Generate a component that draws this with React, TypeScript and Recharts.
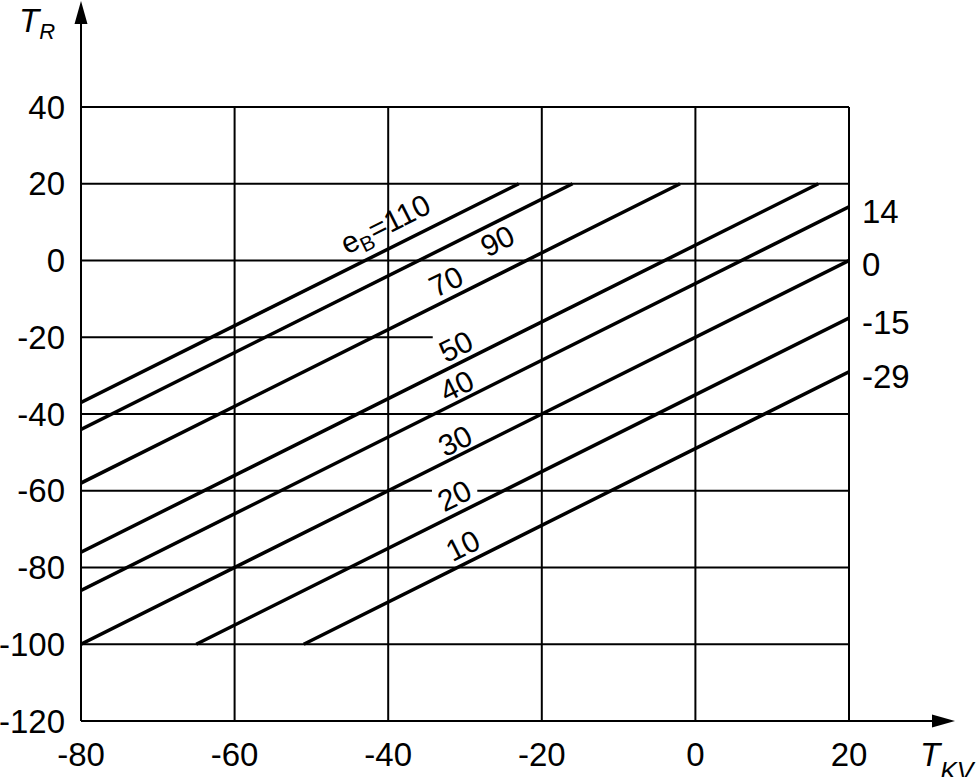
import React from 'react';
import { LineChart, Line, XAxis, YAxis, ReferenceLine, ReferenceDot } from 'recharts';

const FONT = '"Liberation Sans", Arial, Helvetica, sans-serif';

const xTicks = [-80, -60, -40, -20, 0, 20];
const yTicks = [-120, -100, -80, -60, -40, -20, 0, 20, 40];

// e_B curves, each one a straight segment (start -> end)
const curveNames = ['110', '90', '70', '50', '40', '30', '20', '10'];
const curveStartX = [-80, -80, -80, -80, -80, -80, -65, -51];
const curveStartY = [-37, -44, -58, -76, -86, -100, -100, -100];
const curveEndX = [-23, -16, -2, 16, 20, 20, 20, 20];
const curveEndY = [20, 20, 20, 20, 14, 0, -15, -29];

// where the curve labels sit
const labelX = [-40.4, -25.8, -32.5, -31.2, -31.1, -31.3, -31.4, -30.3];
const labelY = [9.6, 5.2, -5.4, -22.3, -32.6, -46.9, -61.2, -74.2];

// values written past the right edge
const endValues = [14, 0, -15, -29];

// grid
const gridRows = [40, 20, 0, -40, -80, -100];
const gridCols = [-60, -40, -20, 0, 20];
const partialRows = [
  { y: -20, from: -80, to: -34.2 },
  { y: -60, from: -80, to: -34.3 },
  { y: -60, from: -28.4, to: 20 },
];

const ANGLE = -26.6;

const tickStyle = { fill: '#000', fontSize: 33, fontFamily: FONT };

function CurveLabel({ cx, cy, name }: any) {
  return (
    <text
      x={cx}
      y={cy}
      dy="0.36em"
      textAnchor="middle"
      transform={`rotate(${ANGLE} ${cx} ${cy})`}
      fontSize={30}
      fontFamily={FONT}
      fill="#000"
    >
      {name === '110' ? (
        <>
          <tspan>e</tspan>
          <tspan fontSize={21} dy={6}>B</tspan>
          <tspan dy={-6}>=110</tspan>
        </>
      ) : (
        name
      )}
    </text>
  );
}

function EndLabel({ cx, cy, value }: any) {
  return (
    <text x={cx + 13} y={cy + 4} dy="0.36em" fontSize={33} fontFamily={FONT} fill="#000">
      {value}
    </text>
  );
}

function XArrow(p: any) {
  const y = p.y1;
  const x0 = Math.min(p.x1, p.x2);
  const tip = Math.max(p.x1, p.x2) + 106;
  return (
    <g>
      <line x1={x0} y1={y} x2={tip - 10} y2={y} stroke="#000" strokeWidth={2} />
      <polygon points={`${tip},${y} ${tip - 23},${y - 6.5} ${tip - 23},${y + 6.5}`} fill="#000" />
      <text x={tip - 35} y={y + 45} fontSize={33} fontStyle="italic" fontFamily={FONT} fill="#000">
        T
        <tspan fontSize={25} dy={14}>KV</tspan>
      </text>
    </g>
  );
}

function YArrow(p: any) {
  const x = p.x1;
  const bottom = Math.max(p.y1, p.y2);
  const tip = 1;
  return (
    <g>
      <line x1={x} y1={bottom} x2={x} y2={tip + 10} stroke="#000" strokeWidth={2} />
      <polygon points={`${x},${tip} ${x - 6.5},${tip + 23} ${x + 6.5},${tip + 23}`} fill="#000" />
      <text x={19} y={32} fontSize={33} fontStyle="italic" fontFamily={FONT} fill="#000">
        T
        <tspan fontSize={22} dy={7}>R</tspan>
      </text>
    </g>
  );
}

export default function App() {
  return (
    <div style={{ position: 'absolute', left: 0, top: 0, background: '#fff' }}>
      <LineChart width={980} height={777} margin={{ top: 107, right: 131, bottom: 0, left: 0 }}>
        <XAxis
          type="number"
          dataKey="x"
          domain={[-80, 20]}
          ticks={xTicks}
          interval={0}
          axisLine={false}
          tickLine={false}
          tickSize={0}
          tickMargin={22}
          height={56}
          tick={tickStyle}
          allowDataOverflow
        />
        <YAxis
          type="number"
          domain={[-120, 40]}
          ticks={yTicks}
          interval={0}
          axisLine={false}
          tickLine={false}
          tickSize={0}
          tickMargin={16}
          width={81}
          tick={tickStyle}
          allowDataOverflow
        />

        {gridRows.map((v) => (
          <ReferenceLine key={`r${v}`} y={v} stroke="#000" strokeWidth={2} />
        ))}
        {gridCols.map((v) => (
          <ReferenceLine key={`c${v}`} x={v} stroke="#000" strokeWidth={2} />
        ))}
        {partialRows.map((s, i) => (
          <ReferenceLine
            key={`p${i}`}
            segment={[{ x: s.from, y: s.y }, { x: s.to, y: s.y }]}
            stroke="#000"
            strokeWidth={2}
          />
        ))}

        <ReferenceLine y={-120} shape={XArrow} />
        <ReferenceLine x={-80} shape={YArrow} />

        {curveNames.map((name, i) => (
          <Line
            key={name}
            name={name}
            data={[
              { x: curveStartX[i], y: curveStartY[i] },
              { x: curveEndX[i], y: curveEndY[i] },
            ]}
            dataKey="y"
            type="linear"
            stroke="#000"
            strokeWidth={3.5}
            dot={false}
            activeDot={false}
            isAnimationActive={false}
          />
        ))}

        {curveNames.map((name, i) => (
          <ReferenceDot
            key={`l${name}`}
            x={labelX[i]}
            y={labelY[i]}
            r={0}
            shape={(p: any) => <CurveLabel {...p} name={name} />}
          />
        ))}

        {endValues.map((v) => (
          <ReferenceDot
            key={`e${v}`}
            x={20}
            y={v}
            r={0}
            shape={(p: any) => <EndLabel {...p} value={v} />}
          />
        ))}
      </LineChart>
    </div>
  );
}
